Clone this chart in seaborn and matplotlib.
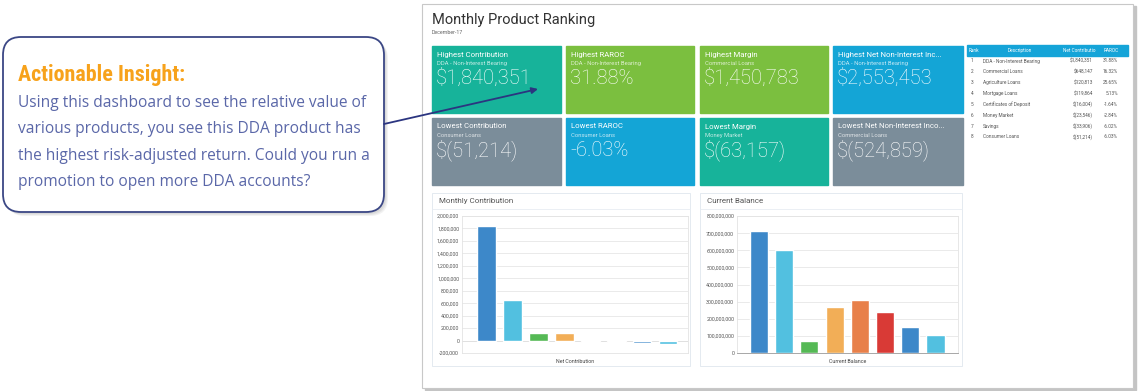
import matplotlib
matplotlib.use("Agg")
import matplotlib.pyplot as plt
import seaborn as sns
from matplotlib.patches import Rectangle, FancyBboxPatch
from matplotlib.ticker import FuncFormatter

# Datos de los productos
productos = ["DDA - Non-Interest Bearing", "Commercial Loans", "Agriculture Loans",
             "Mortgage Loans", "Certificates of Deposit", "Money Market",
             "Savings", "Consumer Loans"]
rank = [1, 2, 3, 4, 5, 6, 7, 8]
net_contribution = [1840351, 648147, 120813, 119864, -16004, -23546, -33906, -51214]
raroc = [31.88, 16.32, 25.65, 5.13, -1.64, -2.84, -6.02, -6.03]
current_balance = [710e6, 600e6, 70e6, 268e6, 312e6, 237e6, 152e6, 105e6]
bar_colors = ["#3d88c9", "#52c0e0", "#55b955", "#f2ae57", "#e8804a", "#d93a36",
              "#3d88c9", "#52c0e0"]

# Tarjetas KPI
tile_titles = ["Highest Contribution", "Highest RAROC", "Highest Margin",
               "Highest Net Non-Interest Inc...", "Lowest Contribution",
               "Lowest RAROC", "Lowest Margin", "Lowest Net Non-Interest Inco..."]
tile_products = ["DDA - Non-Interest Bearing", "DDA - Non-Interest Bearing",
                 "Commercial Loans", "DDA - Non-Interest Bearing", "Consumer Loans",
                 "Consumer Loans", "Money Market", "Commercial Loans"]
tile_values = ["$1,840,351", "31.88%", "$1,450,783", "$2,553,453",
               "$(51,214)", "-6.03%", "$(63,157)", "$(524,859)"]
tile_colors = ["#17b39a", "#7bbf3f", "#7bbf3f", "#14a5d6",
               "#7b8d9a", "#14a5d6", "#17b39a", "#7b8d9a"]

insight_lines = ["Using this dashboard to see the relative value of",
                 "various products, you see this DDA product has",
                 "the highest risk-adjusted return. Could you run a",
                 "promotion to open more DDA accounts?"]

W, H = 1140, 391
sns.set_style("white")
plt.rcParams["font.family"] = ["Roboto", "DejaVu Sans"]

fig = plt.figure(figsize=(W / 100, H / 100), dpi=100)
bg = fig.add_axes([0, 0, 1, 1])
bg.set_xlim(0, W)
bg.set_ylim(H, 0)
bg.axis("off")

# Marco del dashboard con sombra
bg.add_patch(Rectangle((425, 6), 711, 384, color="#c4c4c4", zorder=1))
bg.add_patch(Rectangle((422, 4), 711, 384, facecolor="white", edgecolor="#c8c8c8",
                       lw=0.8, zorder=2))

bg.text(432, 20, "Monthly Product Ranking", fontsize=10.5, color="#333333",
        va="center", zorder=3)
bg.text(432, 33, "December-17", fontsize=3.8, color="#666666", va="center", zorder=3)

# Tarjetas
tile_x = [432, 566, 700, 833]
tile_w = [129, 128, 128, 130]
row_y = [46, 118]
tile_h = 67
for i in range(8):
    fila, col = divmod(i, 4)
    x0, y0 = tile_x[col], row_y[fila]
    bg.add_patch(Rectangle((x0, y0), tile_w[col], tile_h, color=tile_colors[i], zorder=3))
    bg.text(x0 + 5, y0 + 8.5, tile_titles[i], fontsize=5.6, color="white",
            va="center", zorder=4)
    bg.text(x0 + 5, y0 + 17.5, tile_products[i], fontsize=4.2, color="white",
            alpha=0.75, va="center", zorder=4)
    bg.text(x0 + 4, y0 + 32, tile_values[i], fontsize=14.5, color="white",
            fontweight="light", va="center", zorder=4)

# Tabla de ranking
bg.add_patch(Rectangle((967, 45), 161, 11, color="#15a4d8", zorder=3))
hdr_kw = dict(fontsize=3.4, color="white", va="center", zorder=4)
bg.text(969, 50.5, "Rank", ha="left", **hdr_kw)
bg.text(1020, 50.5, "Description", ha="center", **hdr_kw)
bg.text(1079, 50.5, "Net Contributio", ha="center", **hdr_kw)
bg.text(1111, 50.5, "RAROC", ha="center", **hdr_kw)


def money(v):
    return f"${v:,.0f}" if v >= 0 else f"$({-v:,.0f})"


for i in range(8):
    y = 61 + i * 10.85
    kw = dict(fontsize=3.4, color="#555555", va="center", zorder=4)
    bg.text(971, y, str(rank[i]), ha="left", **kw)
    bg.text(983, y, productos[i], ha="left", **kw)
    bg.text(1093, y, money(net_contribution[i]), ha="right", **kw)
    bg.text(1118, y, f"{raroc[i]:.2f}%", ha="right", **kw)

# Paneles de los gráficos
for (px0, px1, titulo) in [(432, 690, "Monthly Contribution"), (700, 962, "Current Balance")]:
    bg.add_patch(Rectangle((px0, 193), px1 - px0, 173, facecolor="white",
                           edgecolor="#dfe6ee", lw=0.6, zorder=3))
    bg.plot([px0, px1], [209, 209], color="#e8edf2", lw=0.6, zorder=4)
    bg.text(px0 + 7, 201, titulo, fontsize=5.8, color="#555555", va="center", zorder=4)

# Recuadro de insight con sombra
for k in range(3):
    bg.add_patch(FancyBboxPatch((3 + 2 + k, 37 + 2 + k), 381, 175,
                                boxstyle="round,pad=0,rounding_size=18",
                                facecolor="black", edgecolor="none", alpha=0.05, zorder=1))
bg.add_patch(FancyBboxPatch((3, 37), 381, 175, boxstyle="round,pad=0,rounding_size=18",
                            facecolor="white", edgecolor="#3b4785", lw=1.3, zorder=2))
bg.text(18, 75, "Actionable Insight:", fontsize=15.8, fontweight="bold", color="#f7a21b",
        family=["Liberation Sans Narrow", "Roboto Condensed", "DejaVu Sans"],
        va="center", zorder=3)
for j, linea in enumerate(insight_lines):
    bg.text(18, 103 + j * 26.4, linea, fontsize=11.2, color="#5a67a8",
            family=["Open Sans", "DejaVu Sans"], va="center", zorder=3)

bg.annotate("", xy=(538, 89), xytext=(384, 124),
            arrowprops=dict(arrowstyle="-|>", color="#2b3580", lw=1.3,
                            mutation_scale=9, shrinkA=0, shrinkB=0), zorder=6)


def eje(px0, px1, py0, py1):
    return fig.add_axes([px0 / W, 1 - py1 / H, (px1 - px0) / W, (py1 - py0) / H])


def estilo(ax, xlabel, xlim):
    ax.set_xlim(*xlim)
    ax.set_xticks([])
    ax.set_xlabel("")
    ax.set_ylabel("")
    ax.grid(axis="y", color="#e6e6e6", lw=0.6)
    ax.set_axisbelow(True)
    for s in ax.spines.values():
        s.set_color("#e3e3e3")
        s.set_linewidth(0.6)
    ax.tick_params(axis="y", labelsize=3.8, labelcolor="#555555", length=0, pad=2)
    ax.yaxis.set_major_formatter(FuncFormatter(lambda v, p: f"{v:,.0f}"))
    ax.text(0.5, -0.06, xlabel, transform=ax.transAxes, ha="center", va="center",
            fontsize=3.8, color="#444444")


# Gráfico 1: contribución mensual
ax1 = eje(462, 688, 216, 353)
sns.barplot(x=productos, y=net_contribution, hue=productos, palette=bar_colors,
            legend=False, width=0.72, saturation=1, ax=ax1)
ax1.set_ylim(-200000, 2000000)
ax1.set_yticks(range(-200000, 2000001, 200000))
ax1.axhline(0, color="#bbbbbb", lw=0.6, zorder=0.5)
estilo(ax1, "Net Contribution", (-0.95, 7.77))

# Gráfico 2: saldo actual
ax2 = eje(737, 958, 216, 353)
sns.barplot(x=productos, y=current_balance, hue=productos, palette=bar_colors,
            legend=False, width=0.72, saturation=1, ax=ax2)
ax2.set_ylim(0, 800e6)
ax2.set_yticks([i * 100e6 for i in range(9)])
estilo(ax2, "Current Balance", (-0.87, 7.89))
ax2.spines["bottom"].set_color("#999999")

fig.savefig("out.png", dpi=100)
